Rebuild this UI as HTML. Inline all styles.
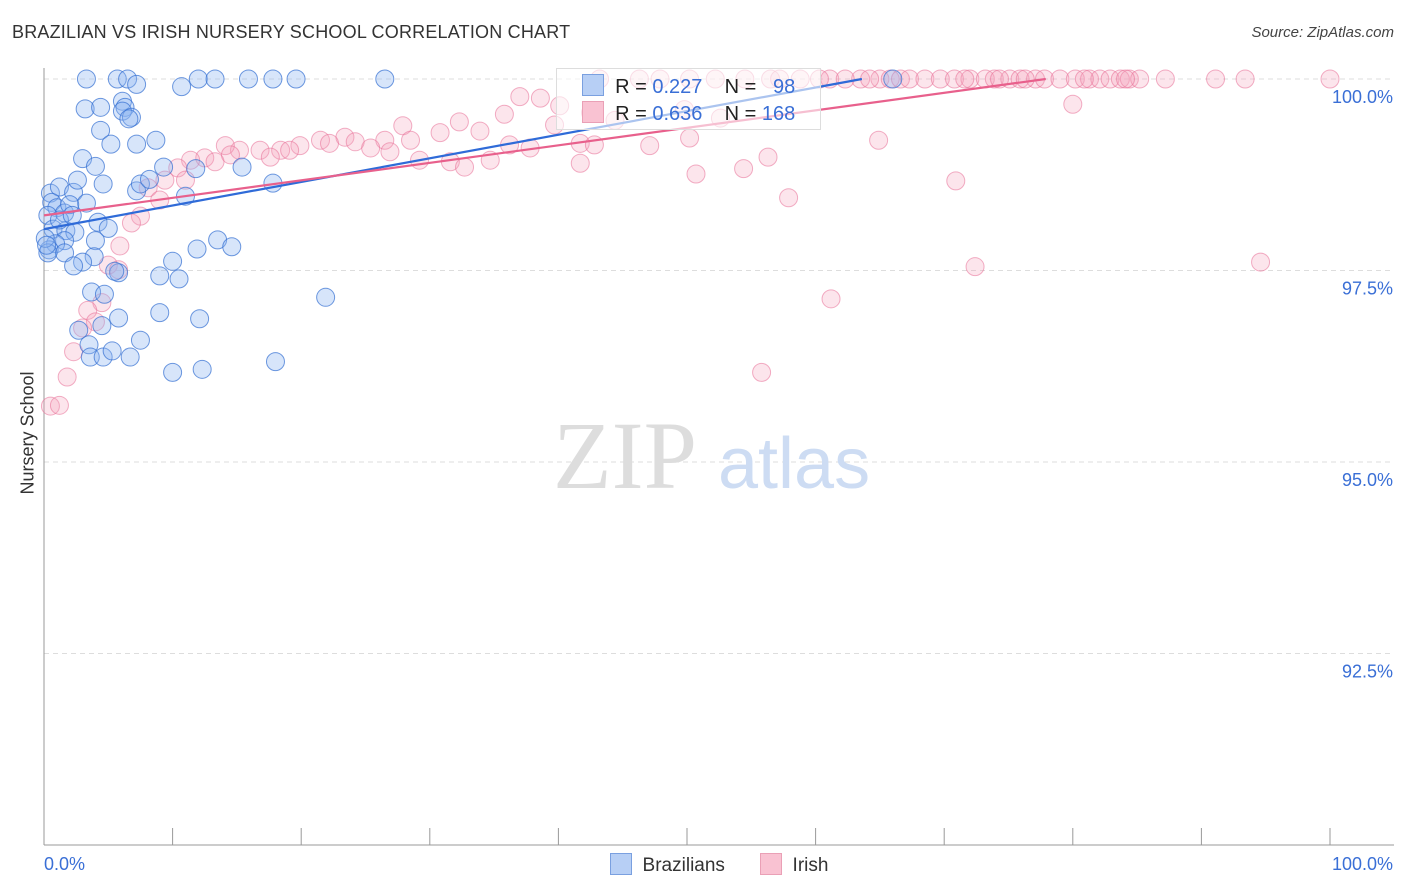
<!DOCTYPE html>
<html><head><meta charset="utf-8">
<style>
body{margin:0;background:#fff;font-family:"Liberation Sans",sans-serif;}
#wrap{position:relative;width:1406px;height:892px;overflow:hidden;}
.t{position:absolute;white-space:nowrap;}
</style></head>
<body>
<div id="wrap">
<div class="t" style="left:12px;top:22px;font-size:18px;color:#333;letter-spacing:0.2px">BRAZILIAN VS IRISH NURSERY SCHOOL CORRELATION CHART</div>
<div class="t" style="right:12px;top:24px;font-size:15px;color:#444;font-style:italic">Source: ZipAtlas.com</div>
<div class="t" style="left:-12px;top:444px;font-size:18px;color:#333;transform:rotate(-90deg);width:80px;text-align:center">Nursery School</div>
<svg id="svg" width="1406" height="892" style="position:absolute;left:0;top:0"></svg>
<div class="t" style="left:556px;top:68px;width:263px;height:60px;border:1px solid #ddd;background:rgba(255,255,255,0.6)"></div>
<div class="t" style="left:582px;top:74px;font-size:20px;line-height:27px;color:#222">
<div><span style="display:inline-block;width:20px;height:20px;background:#b7cff5;border:1px solid #7aa0e0;vertical-align:-3px"></span>&nbsp; R = <span style="color:#3a6fd6">0.227</span>&nbsp;&nbsp;&nbsp; N = &nbsp;<span style="color:#3a6fd6">&nbsp;98</span></div>
<div><span style="display:inline-block;width:20px;height:20px;background:#f9c2d2;border:1px solid #eaa0b6;vertical-align:-3px"></span>&nbsp; R = <span style="color:#3a6fd6">0.636</span>&nbsp;&nbsp;&nbsp; N = <span style="color:#3a6fd6">168</span></div>
</div>
<div class="t" style="left:610px;top:853px;font-size:19px;color:#333"><span style="display:inline-block;width:20px;height:20px;background:#b7cff5;border:1px solid #7aa0e0;vertical-align:-4px"></span>&nbsp; Brazilians</div>
<div class="t" style="left:760px;top:853px;font-size:19px;color:#333"><span style="display:inline-block;width:20px;height:20px;background:#f9c2d2;border:1px solid #eaa0b6;vertical-align:-4px"></span>&nbsp; Irish</div>
</div>
<script>
const yTicks=[100,97.5,95,92.5];
const yTickLabels=["100.0%","97.5%","95.0%","92.5%"];
const xTickLabels=["0.0%","100.0%"];
const blueX=[3.3,5.7,6.5,7.2,10.7,12.0,13.3,15.9,17.8,19.6,26.5,3.2,4.4,6.1,6.3,6.1,6.8,6.6,4.4,5.2,7.2,8.7,3.0,4.0,9.3,15.4,11.8,4.6,7.2,7.5,8.2,11.0,17.8,0.5,1.2,2.3,2.6,3.3,0.6,1.0,1.6,2.0,0.3,0.7,1.7,2.4,4.2,5.0,4.0,1.6,0.9,0.4,0.3,1.6,3.9,3.0,2.3,5.8,5.5,9.0,10.5,10.0,11.9,13.5,14.6,21.9,3.7,4.7,5.8,9.0,12.1,2.7,4.5,3.5,3.6,4.6,5.3,7.5,6.7,10.0,12.3,18.0,0.1,0.2,1.2,2.2,66.0];
const blueY=[100,100,100,99.93,99.9,100,100,100,100,100,100,99.61,99.63,99.71,99.63,99.58,99.5,99.48,99.33,99.15,99.15,99.2,98.96,98.86,98.85,98.85,98.83,98.63,98.54,98.63,98.69,98.47,98.64,98.51,98.59,98.52,98.68,98.38,98.39,98.32,98.25,98.36,98.22,98.04,98.02,98.0,98.13,98.05,97.89,97.89,97.85,97.77,97.73,97.73,97.68,97.61,97.56,97.47,97.49,97.43,97.39,97.62,97.78,97.9,97.81,97.15,97.22,97.19,96.88,96.95,96.87,96.72,96.78,96.53,96.37,96.37,96.45,96.59,96.37,96.17,96.21,96.31,97.92,97.83,98.16,98.22,100];
const pinkTopX=[46.3,50.2,54.5,56.5,58.8,61.1,63.5,65.0,65.8,66.6,67.3,68.5,69.7,70.8,72.0,73.2,73.9,75.1,75.9,77.1,77.8,79.0,80.2,81.3,82.1,82.9,83.7,84.4,85.2,87.2,91.1,93.4,100,43.2,47.9,52.2,57.2,60.3,62.3,64.2,71.6,74.3,76.3,80.9,84.1];
const pinkX=[80.0,37.0,38.6,40.1,35.8,42.5,44.4,32.3,27.9,30.8,33.9,36.2,26.5,23.4,21.5,19.9,18.4,16.8,15.2,14.1,12.5,11.4,13.3,14.5,17.6,19.1,22.2,24.2,25.4,26.9,28.5,29.2,31.6,32.7,34.7,37.8,39.7,41.7,42.8,47.1,50.2,49.8,52.6,64.9,56.3,41.7,50.7,54.4,70.9,57.9,10.4,9.4,11.0,8.1,9.0,7.5,6.8,5.9,5.0,5.8,4.5,3.4,4.0,3.0,2.3,1.8,0.5,1.2,72.4,94.6,61.2,55.8];
const pinkY=[99.67,99.77,99.75,99.65,99.54,99.56,99.46,99.44,99.39,99.3,99.32,99.14,99.2,99.24,99.2,99.13,99.07,99.07,99.07,99.13,98.97,98.94,98.92,99.01,98.98,99.07,99.16,99.18,99.1,99.05,99.2,98.94,98.92,98.85,98.94,99.1,99.4,99.16,99.14,99.13,99.23,99.6,99.49,99.2,98.98,98.9,98.76,98.83,98.67,98.45,98.84,98.68,98.68,98.58,98.42,98.21,98.12,97.82,97.57,97.51,97.08,96.98,96.83,96.75,96.44,96.11,95.73,95.74,97.55,97.61,97.13,96.17];
const blueTrend=[[0,98.04],[63.6,100]];
const pinkTrend=[[0,98.22],[77.9,100]];
const X=v=>44+v*12.86, Y=v=>79+(100-v)*76.6;
const svg=document.getElementById('svg');const NS='http://www.w3.org/2000/svg';
function mk(tag,attrs,name){const e=document.createElementNS(NS,tag);for(const k in attrs)e.setAttribute(k,attrs[k]);


svg.appendChild(e);return e;}
yTicks.forEach((t,i)=>{mk('line',{x1:44,x2:1394,y1:Y(t),y2:Y(t),stroke:'#ddd','stroke-dasharray':'5,4'},'gridline');
const tx=mk('text',{x:1393,y:Y(t)+24,'text-anchor':'end','font-size':18,fill:'#3a6fd6','font-family':'Liberation Sans'},'y-tick-label');tx.textContent=yTickLabels[i];});
mk('line',{x1:44,x2:44,y1:68,y2:845,stroke:'#999'},'y-axis-line');
mk('line',{x1:44,x2:1394,y1:845,y2:845,stroke:'#999'},'x-axis-line');
for(let i=0;i<=10;i++)mk('line',{x1:X(i*10),x2:X(i*10),y1:828,y2:845,stroke:'#999'},'x-tick');
let t1=mk('text',{x:44,y:870,'font-size':18,fill:'#3a6fd6','font-family':'Liberation Sans'},'x-tick-label');t1.textContent=xTickLabels[0];
let t2=mk('text',{x:1393,y:870,'text-anchor':'end','font-size':18,fill:'#3a6fd6','font-family':'Liberation Sans'},'x-tick-label');t2.textContent=xTickLabels[1];
let w1=mk('text',{x:553,y:488,'font-size':96,fill:'#ddd','font-family':'Liberation Serif'},'watermark-zip');w1.textContent='ZIP';
let w2=mk('text',{x:718,y:488,'font-size':72,fill:'#cddcf3','font-family':'Liberation Sans'},'watermark-atlas');w2.textContent='atlas';
pinkTopX.forEach(x=>mk('circle',{cx:X(x),cy:Y(100),r:9,fill:'rgba(246,160,188,0.28)',stroke:'rgba(232,110,150,0.55)'},'irish-point'));
pinkX.forEach((x,i)=>mk('circle',{cx:X(x),cy:Y(pinkY[i]),r:9,fill:'rgba(246,160,188,0.28)',stroke:'rgba(232,110,150,0.55)'},'irish-point'));
blueX.forEach((x,i)=>mk('circle',{cx:X(x),cy:Y(blueY[i]),r:9,fill:'rgba(140,180,240,0.35)',stroke:'rgba(50,110,210,0.7)'},'brazilian-point'));
mk('line',{x1:X(blueTrend[0][0]),y1:Y(blueTrend[0][1]),x2:X(blueTrend[1][0]),y2:Y(blueTrend[1][1]),stroke:'#2f6bd8','stroke-width':2.2},'brazilian-trend-line');
mk('line',{x1:X(pinkTrend[0][0]),y1:Y(pinkTrend[0][1]),x2:X(pinkTrend[1][0]),y2:Y(pinkTrend[1][1]),stroke:'#e8608c','stroke-width':2.2},'irish-trend-line');
</script>
</body></html>
